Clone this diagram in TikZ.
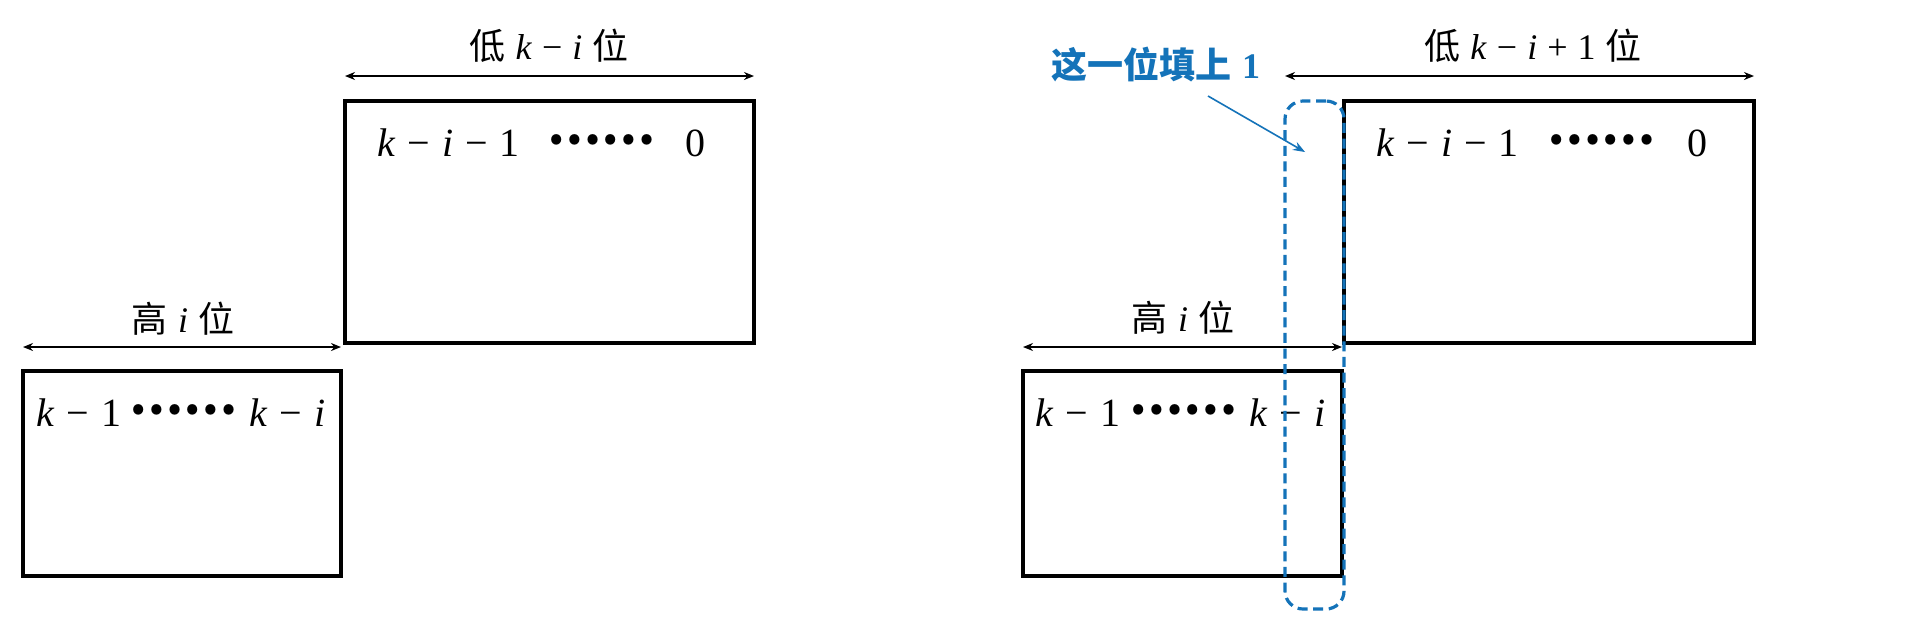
\documentclass[tikz,border=0pt]{standalone}
\usepackage{fontspec}
\setmainfont{Liberation Serif}
\newfontfamily\cjk{Noto Sans CJK SC}
\usetikzlibrary{arrows.meta,calc}
\definecolor{noteblue}{RGB}{20,115,185}
\newcommand\mygap{\hspace{0.28em}}
\newcommand\numgap{\hspace{0.3em}}
\newcommand\vk{\textit{k}}
\newcommand\vi{\textit{i}}
\tikzset{
  box/.style={draw, line width=1.6pt, inner sep=0pt},
  dim/.style={line width=1pt, {Stealth[length=5pt,width=4pt]}-{Stealth[length=5pt,width=4pt]}},
  lbl/.style={font=\fontsize{18}{18}\selectfont, inner sep=0pt},
  num/.style={font=\fontsize{20}{20}\selectfont, inner sep=0pt, anchor=base west},
  dotsnode/.style={font=\cjk\bfseries\fontsize{24}{24}\selectfont, inner sep=0pt, anchor=base},
  fillbox/.style={draw=noteblue, line width=1.6pt, dash pattern=on 5pt off 2.8pt, rounded corners=9pt, inner sep=0pt},
  note/.style={text=noteblue, font=\fontsize{18}{18}\selectfont\bfseries, inner sep=0pt},
  notearrow/.style={draw=noteblue, line width=0.8pt, -{Stealth[length=6pt,width=4.5pt]}}
}
\begin{document}
\begin{tikzpicture}[x=0.5pt,y=-0.5pt]
\useasboundingbox (0,0) rectangle (1920,639);
\fill[white] (0,0) rectangle (1920,639);

% ---------- left diagram ----------
\node[box, minimum width=204.5pt, minimum height=121pt] (LT) at (549.5,222) {};
\node[box, minimum width=159pt, minimum height=102.5pt] (LB) at (182,473.5) {};
\coordinate (LTa) at (345,76);
\coordinate (LTb) at (754,76);
\coordinate (LBa) at (23,347);
\coordinate (LBb) at (341,347);
\draw[dim] (LTa) -- (LTb);
\draw[dim] (LBa) -- (LBb);
\node[lbl] (LTlbl) at (549,46) {{\cjk 低}\mygap\vk\mygap−\mygap\vi\mygap{\cjk 位}};
\node[lbl] (LBlbl) at (183,319) {{\cjk 高}\mygap\vi\mygap{\cjk 位}};
\node[num] (LTn1) at (377,156) {\vk\numgap−\numgap\vi\numgap−\numgap1};
\node[dotsnode] (LTd) at (601,156) {\raisebox{6pt}{……}};
\node[num] (LTn2) at (685,156) {0};
\node[num] (LBn1) at (36,426) {\vk\numgap−\numgap1};
\node[dotsnode] (LBd) at (183,426) {\raisebox{6pt}{……}};
\node[num] (LBn2) at (249,426) {\vk\numgap−\numgap\vi};

% ---------- right diagram ----------
\node[box, minimum width=205pt, minimum height=121pt] (RT) at (1549,222) {};
\node[box, minimum width=159.5pt, minimum height=102.5pt] (RB) at (1182.5,473.5) {};
\coordinate (RTa) at (1285,76);
\coordinate (RTb) at (1754,76);
\coordinate (RBa) at (1023,347);
\coordinate (RBb) at (1342,347);
\draw[dim] (RTa) -- (RTb);
\draw[dim] (RBa) -- (RBb);
\node[lbl] (RTlbl) at (1533,46) {{\cjk 低}\mygap\vk\mygap−\mygap\vi\mygap+\mygap1\mygap{\cjk 位}};
\node[lbl] (RBlbl) at (1183,318) {{\cjk 高}\mygap\vi\mygap{\cjk 位}};
\node[num] (RTn1) at (1376,156) {\vk\numgap−\numgap\vi\numgap−\numgap1};
\node[dotsnode] (RTd) at (1601,156) {\raisebox{6pt}{……}};
\node[num] (RTn2) at (1687,156) {0};
\node[num] (RBn1) at (1035,426) {\vk\numgap−\numgap1};
\node[dotsnode] (RBd) at (1183,426) {\raisebox{6pt}{……}};
\node[num] (RBn2) at (1249,426) {\vk\numgap−\numgap\vi};

% ---------- highlighted bit ----------
\node[fillbox, minimum width=29.5pt, minimum height=254pt] (bit) at (1314.5,355) {};
\node[note] (note) at (1156,65) {{\cjk 这一位填上}\mygap1};
\coordinate (ns) at (1208,96);
\coordinate (ne) at (1305,152);
\draw[notearrow] (ns) -- (ne);
\end{tikzpicture}
\end{document}
